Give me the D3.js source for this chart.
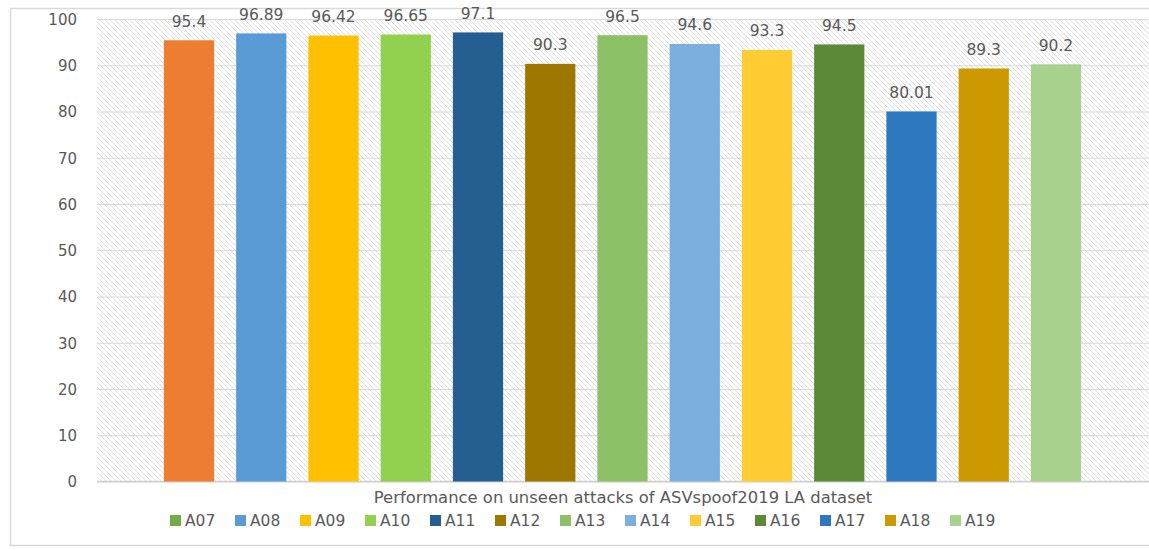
<!DOCTYPE html>
<html>
<head>
<meta charset="utf-8">
<script src="https://cdn.jsdelivr.net/npm/d3@7"></script>
<style>
  html, body { margin: 0; padding: 0; background: #ffffff; }
  svg { display: block; }
  text { font-family: "DejaVu Sans", sans-serif; fill: #595959; }
</style>
</head>
<body>
<div id="chart"></div>
<script>
// ---- data ----
const categories = ["A07","A08","A09","A10","A11","A12","A13","A14","A15","A16","A17","A18","A19"];
const values = [95.4, 96.89, 96.42, 96.65, 97.1, 90.3, 96.5, 94.6, 93.3, 94.5, 80.01, 89.3, 90.2];
const valueLabels = ["95.4","96.89","96.42","96.65","97.1","90.3","96.5","94.6","93.3","94.5","80.01","89.3","90.2"];
const barColors = ["#ED7D31","#5B9BD5","#FFC000","#92D050","#255E91","#9E7700","#8CC168","#7CAFDD","#FFCD33","#5A8A38","#2E78C0","#CC9A00","#A9D18E"];
const legendColors = ["#70AD47","#5B9BD5","#FFC000","#92D050","#255E91","#9E7700","#8CC168","#7CAFDD","#FFCD33","#5A8A38","#2E78C0","#CC9A00","#A9D18E"];
const yTicks = [0,10,20,30,40,50,60,70,80,90,100];
const legendTitle = "Performance on unseen attacks of ASVspoof2019 LA dataset";

// ---- layout ----
const W = 1149, H = 550;
const plot = { left: 97, right: 1148, top: 19, bottom: 481.5 };

const svg = d3.select("#chart").append("svg").attr("width", W).attr("height", H);

// hatch pattern
const defs = svg.append("defs");
const pat = defs.append("pattern")
  .attr("id", "hatch").attr("patternUnits", "userSpaceOnUse")
  .attr("width", 5).attr("height", 5);
pat.append("rect").attr("width", 5).attr("height", 5).attr("fill", "#ffffff");
pat.append("path")
  .attr("d", "M-1,-1 L6,6 M-1,4 L1,6 M4,-1 L6,1")
  .attr("stroke", "#dadada").attr("stroke-width", 0.85);

// outer chart border
svg.append("rect")
  .attr("x", 10.5).attr("y", 8.5).attr("width", W + 10).attr("height", 537)
  .attr("fill", "#ffffff").attr("stroke", "#d9d9d9").attr("stroke-width", 1.5);

// scales
const x = d3.scaleBand().domain(categories)
  .range([plot.left, plot.right]).paddingInner(0.3045).paddingOuter(0.9258);
const y = d3.scaleLinear().domain([0, 100]).range([plot.bottom, plot.top]);

// plot background
svg.append("rect")
  .attr("x", plot.left).attr("y", y(100))
  .attr("width", plot.right - plot.left + 5).attr("height", y(0) - y(100))
  .attr("fill", "url(#hatch)");

// grid lines via axis
const yAxis = d3.axisLeft(y).tickValues(yTicks).tickSize(-(plot.right - plot.left + 5)).tickFormat(d => d);
const gAxis = svg.append("g").attr("transform", `translate(${plot.left},0)`).call(yAxis);
gAxis.select(".domain").remove();
gAxis.selectAll(".tick line").attr("stroke", "#d9d9d9").attr("stroke-width", 1.2);
gAxis.selectAll(".tick text")
  .attr("x", -20).attr("dy", "0.36em")
  .style("font-size", "15px").style("fill", "#595959")
  .style("font-family", "'DejaVu Sans', sans-serif");

// baseline
svg.append("line")
  .attr("x1", plot.left).attr("x2", W).attr("y1", y(0)).attr("y2", y(0))
  .attr("stroke", "#cfcfcf").attr("stroke-width", 1.5);

// bars
svg.append("g").selectAll("rect").data(categories).join("rect")
  .attr("x", d => x(d)).attr("width", x.bandwidth())
  .attr("y", (d, i) => y(values[i]))
  .attr("height", (d, i) => y(0) - y(values[i]))
  .attr("fill", (d, i) => barColors[i]);

// value labels
svg.append("g").selectAll("text").data(categories).join("text")
  .attr("x", d => x(d) + x.bandwidth() / 2)
  .attr("y", (d, i) => y(values[i]) - 13.5)
  .attr("text-anchor", "middle")
  .style("font-size", "15.5px")
  .text((d, i) => valueLabels[i]);

// legend title
svg.append("text")
  .attr("x", 623).attr("y", 503)
  .attr("text-anchor", "middle")
  .style("font-size", "16.4px")
  .text(legendTitle);

// legend items
const lg = svg.append("g").selectAll("g").data(categories).join("g")
  .attr("transform", (d, i) => `translate(${170 + i * 65},0)`);
lg.append("rect").attr("x", 0).attr("y", 515).attr("width", 11).attr("height", 11)
  .attr("fill", (d, i) => legendColors[i]);
lg.append("text").attr("x", 15).attr("y", 526)
  .style("font-size", "15.5px")
  .text(d => d);
</script>
</body>
</html>
